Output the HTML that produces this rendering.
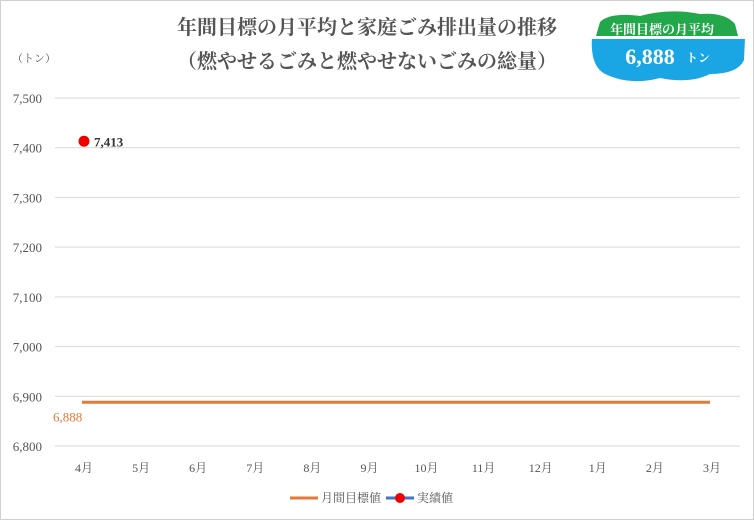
<!DOCTYPE html>
<html><head><meta charset="utf-8"><style>
body{margin:0;background:#fff}
svg text{font-family:"Liberation Serif","Noto Serif CJK SC",serif}
</style></head><body>
<svg width="754" height="520" xmlns="http://www.w3.org/2000/svg" id="c">
<rect x="0.5" y="0.5" width="753" height="519" fill="#fff" stroke="#d0d0d0"/>
<text x="367" y="34" text-anchor="middle" font-size="20" font-weight="bold" fill="#555">年間目標の月平均と家庭ごみ排出量の推移</text>
<text x="367" y="68" text-anchor="middle" font-size="20" font-weight="bold" fill="#555">（燃やせるごみと燃やせないごみの総量）</text>
<text x="12" y="62" font-size="11" fill="#555">（トン）</text>
<g>
<path d="M600 22 Q610 12 640 16 Q670 8 700 14 Q725 12 735 24 L738 36 L596 36 Z" fill="#22a84a"/>
<path d="M592 38 L745 38 L744 60 Q738 74 710 74 Q690 84 660 78 Q630 86 605 74 Q590 66 592 38 Z" fill="#1aa6e4"/>
<rect x="592" y="36" width="153" height="3" fill="#fff"/>
<text x="662" y="34" text-anchor="middle" font-size="13" font-weight="bold" fill="#fff">年間目標の月平均</text>
<text x="650" y="64" text-anchor="middle" font-size="22" font-weight="bold" fill="#fff">6,888</text>
<text x="698" y="62" text-anchor="middle" font-size="12" font-weight="bold" fill="#fff">トン</text>
</g>
<g id="grid"></g><g id="marks"></g>
<g>
<line x1="290" y1="498" x2="318" y2="498" stroke="#e07b39" stroke-width="3"/>
<text x="321" y="502" font-size="12" fill="#555">月間目標値</text>
<line x1="386" y1="498" x2="414" y2="498" stroke="#4472c4" stroke-width="3"/>
<circle cx="400" cy="498" r="5" fill="#e00"/>
<text x="417" y="502" font-size="12" fill="#555">実績値</text>
</g>
</svg>
<script>
const categories=["4月","5月","6月","7月","8月","9月","10月","11月","12月","1月","2月","3月"];
const targetValues=[6888,6888,6888,6888,6888,6888,6888,6888,6888,6888,6888,6888];
const actualValues=[7413];
const yTicks=[6800,6900,7000,7100,7200,7300,7400,7500];
const yTickLabels=["6,800","6,900","7,000","7,100","7,200","7,300","7,400","7,500"];
const NS="http://www.w3.org/2000/svg";
const y=v=>446-(v-6800)*(348/700);
const x=i=>84+i*(628/11);
function el(t,a,p,txt){const e=document.createElementNS(NS,t);for(const k in a)e.setAttribute(k,a[k]);if(txt!=null)e.textContent=txt;p.appendChild(e);return e;}
const g=document.getElementById('grid'),m=document.getElementById('marks');
yTicks.forEach((v,i)=>{
 const l=el('line',{x1:55,x2:740,y1:y(v),y2:y(v),stroke:'#d9d9d9'},g);
 
 
 const t=el('text',{x:42,y:y(v)+5,'text-anchor':'end','font-size':13,fill:'#555'},g,yTickLabels[i]);
 
 
});
categories.forEach((c,i)=>{
 const t=el('text',{x:x(i),y:472,'text-anchor':'middle','font-size':12,fill:'#555'},g,c);
 
 
});
const pts=targetValues.map((v,i)=>(x(i)-2)+','+y(v)).join(' ');
const pl=el('polyline',{points:pts,fill:'none',stroke:'#e07b39','stroke-width':3},m);


const tl=el('text',{x:53,y:y(targetValues[0])+19,'font-size':13,fill:'#e07b39'},m,targetValues[0].toLocaleString('en-US'));


actualValues.forEach((v,i)=>{
 const c=el('circle',{cx:x(i),cy:y(v),r:5.5,fill:'#e00'},m);
 
 
 const t=el('text',{x:x(i)+10,y:y(v)+5,'font-size':13,'font-weight':'bold',fill:'#333'},m,v.toLocaleString('en-US'));
 
 
});
</script>
</body></html>
